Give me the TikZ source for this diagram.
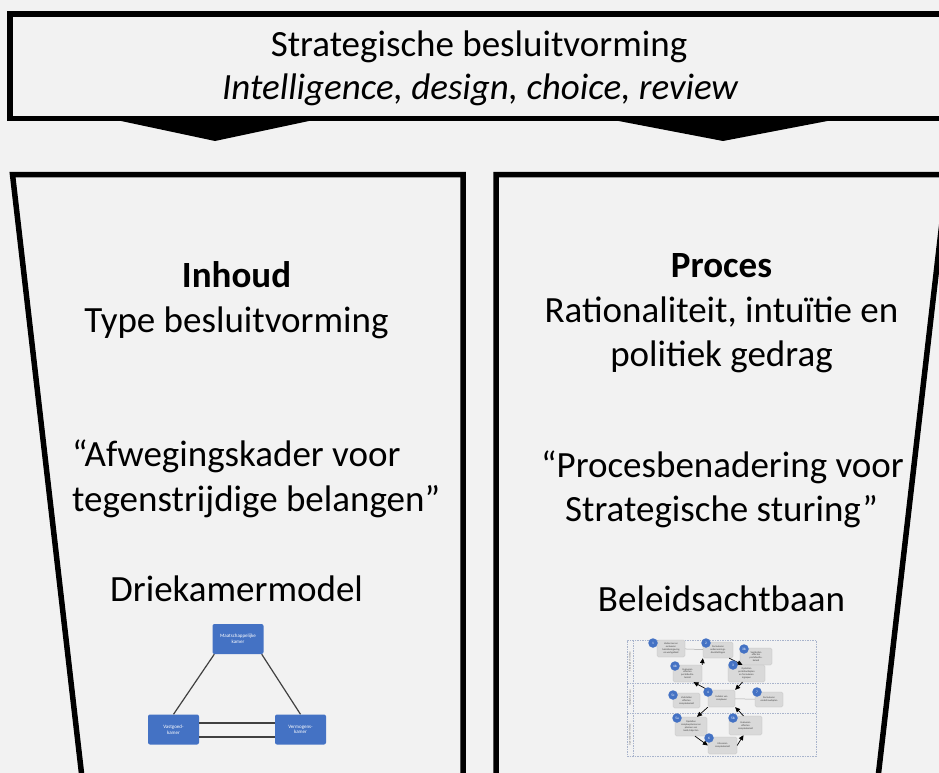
\documentclass[tikz,border=0pt]{standalone}
\usepackage{fontspec}
\setmainfont{Carlito}
\usetikzlibrary{arrows.meta}
\definecolor{bg}{HTML}{F2F2F2}
\definecolor{kamerblue}{HTML}{4472C4}
\definecolor{stapgray}{HTML}{D9D9D9}
\definecolor{stapedge}{HTML}{BFBFBF}
\definecolor{niveaukleur}{HTML}{A9B4CC}
\definecolor{lijngrijs}{HTML}{404040}
\begin{document}
\begin{tikzpicture}[x=1pt,y=-1pt,
  frame/.style={line width=5.5pt, draw=black, fill=bg, line join=miter},
  txt/.style={font=\fontsize{37}{45}\selectfont, inner sep=0pt, anchor=base},
  head/.style={txt, font=\fontsize{37}{45}\selectfont\bfseries},
  kamer/.style={fill=kamerblue, rounded corners=2pt, minimum width=51pt, minimum height=30pt,
    text=white, font=\fontsize{5}{5.8}\selectfont, align=center, inner sep=0pt},
  kline/.style={draw=lijngrijs, line width=1.2pt},
  stap/.style={fill=stapgray, draw=stapedge, line width=0.3pt, rounded corners=1.5pt,
    font=\fontsize{2.5}{2.9}\selectfont, align=center, inner sep=0pt, text=black!75},
  nr/.style={circle, fill=kamerblue, minimum size=9.5pt, inner sep=0pt, text=white,
    font=\fontsize{3.5}{3.5}\selectfont},
  pijl/.style={-{Triangle[length=5pt,width=4.5pt]}, line width=0.7pt},
  lijn/.style={draw=gray!70, line width=0.5pt},
  niveau/.style={draw=niveaukleur, dash pattern=on 1.5pt off 1pt, line width=0.4pt},
  niveautxt/.style={rotate=90, font=\fontsize{2.6}{2.6}\selectfont, text=black!60, inner sep=0pt}
]
\useasboundingbox (0,0) rectangle (939,773);
\fill[bg] (0,0) rectangle (939,773);
\begin{scope}
\clip (0,0) rectangle (939,773);

% top banner with its two downward pointers
\draw[frame] (10,14) rectangle (975,118.5);
\fill (107,118) -- (215,141) -- (323,118) -- cycle;
\fill (603,118) -- (723,141) -- (843,118) -- cycle;

% the two tapering columns
\draw[frame] (84,795) -- (12.5,174.5) -- (463,174.5) -- (463,795);
\draw[frame] (496,795) -- (496,174.5) -- (947.5,174.5) -- (876,795);
\end{scope}

% banner text
\node[txt] (titel) at (479,57) {Strategische besluitvorming};
\node[txt, font=\fontsize{37}{45}\selectfont\itshape] (fasen) at (480,100) {Intelligence, design, choice, review};

% left column
\node[head] (inhoud) at (236.5,287) {Inhoud};
\node[txt] (type) at (236.5,332) {Type besluitvorming};
\node[txt, anchor=base west] (afw1) at (72,466) {“Afwegingskader voor};
\node[txt, anchor=base west] (afw2) at (72,511) {tegenstrijdige belangen”};
\node[txt] (dkm) at (236.5,601) {Driekamermodel};

% right column
\node[head] (proces) at (721.5,277) {Proces};
\node[txt] (rat1) at (721.5,322) {Rationaliteit, intuïtie en};
\node[txt] (rat2) at (721.5,366) {politiek gedrag};
\node[txt] (pb1) at (722.5,477) {“Procesbenadering voor};
\node[txt] (pb2) at (721.5,521) {Strategische sturing”};
\node[txt] (bab) at (721.5,611) {Beleidsachtbaan};

% three-chamber model
\node[kamer] (mk) at (238,639) {Maatschappelijke\\kamer};
\node[kamer] (vk) at (173.5,729.5) {Vastgoed-\\kamer};
\node[kamer] (vm) at (300.5,729.5) {Vermogens-\\kamer};
\draw[kline] ([xshift=2pt]mk.south west) -- (vk.north);
\draw[kline] ([xshift=-2pt]mk.south east) -- (vm.north);
\draw[kline] ([yshift=6.5pt]vk.east) -- ([yshift=6.5pt]vm.west);
\draw[kline] ([yshift=-7.5pt]vk.east) -- ([yshift=-7.5pt]vm.west);

% policy roller coaster: levels
\node[niveau, minimum width=189pt, minimum height=116pt, inner sep=0pt] (kader) at (721.5,698) {};
\draw[niveau] (627,683) -- (816,683);
\draw[niveau] (627,713) -- (816,713);
\draw[niveau] (633,640) -- (633,756);
\node[niveautxt] (ns) at (630,661.5) {Strategisch niveau};
\node[niveautxt] (nt) at (630,698) {Tactisch niveau};
\node[niveautxt] (no) at (630,734.5) {Operationeel niveau};

% policy roller coaster: steps
\node[stap, minimum width=28pt, minimum height=17pt] (b1) at (671,648.5) {Verkennen en\\evalueren\\beleidsomgeving\\en werkgebied};
\node[stap, minimum width=30pt, minimum height=16pt] (b2) at (718,650) {Formuleren\\ondernemings-\\doelstellingen};
\node[stap, minimum width=32pt, minimum height=17pt] (b3) at (756,656.5) {Vaststellen\\effecten\\portefeuille-\\beleid};
\node[stap, minimum width=37pt, minimum height=17pt] (b4) at (746.5,673.5) {Opstellen\\portefeuilleplan\\en formuleren\\ingrepen};
\node[stap, minimum width=29pt, minimum height=17pt] (b5) at (687.5,673.5) {Evalueren\\effecten\\portefeuille-\\beleid};
\node[stap, minimum width=27pt, minimum height=17pt] (b6) at (721.5,698.5) {Indelen van\\complexen};
\node[stap, minimum width=27pt, minimum height=15pt] (b7) at (686.5,700.5) {Vaststellen\\effecten\\complexbeleid};
\node[stap, minimum width=28pt, minimum height=15pt] (b8) at (769,699.5) {Formuleren\\onderhoudsplan};
\node[stap, minimum width=32pt, minimum height=19pt] (b9) at (691,726.5) {Opstellen\\complexplannen en\\plannen van\\bezit/objecten};
\node[stap, minimum width=33pt, minimum height=19pt] (b10) at (745.5,725.5) {Evalueren\\effecten\\complexbeleid};
\node[stap, minimum width=29pt, minimum height=17pt] (b11) at (722.5,745.5) {Uitvoeren\\complexbeleid};

\draw[lijn] (b1) -- (b2);
\draw[lijn] (b8) -- (b6);

\draw[pijl] (b5.north east) -- (b2.south west);
\draw[pijl] ([xshift=-4pt]b2.south east) -- ([xshift=-4pt]b4.north);
\draw[pijl] ([xshift=-4pt]b4.south) -- (b6.north east);
\draw[pijl] (b6.north west) -- ([xshift=6pt]b5.south);
\draw[pijl] (b6.south west) -- ([xshift=6pt]b9.north);
\draw[pijl] ([xshift=4pt]b9.south) -- (b11.west);
\draw[pijl] (b11.east) -- ([xshift=-2pt]b10.south);
\draw[pijl] ([xshift=-2pt]b10.north) -- (b6.south east);

\node[nr] (c1) at (653,643) {1};
\node[nr] (c2) at (706,643) {2};
\node[nr] (c3) at (744,649) {3b};
\node[nr] (c4) at (733,665) {3};
\node[nr] (c5) at (675,666) {4b};
\node[nr] (c6) at (708,692) {4};
\node[nr] (c7) at (673,695) {5c};
\node[nr] (c8) at (757,692) {7};
\node[nr] (c9) at (677,718) {5a};
\node[nr] (c10) at (733,718) {5b};
\node[nr] (c11) at (709,738) {6};
\end{tikzpicture}
\end{document}
